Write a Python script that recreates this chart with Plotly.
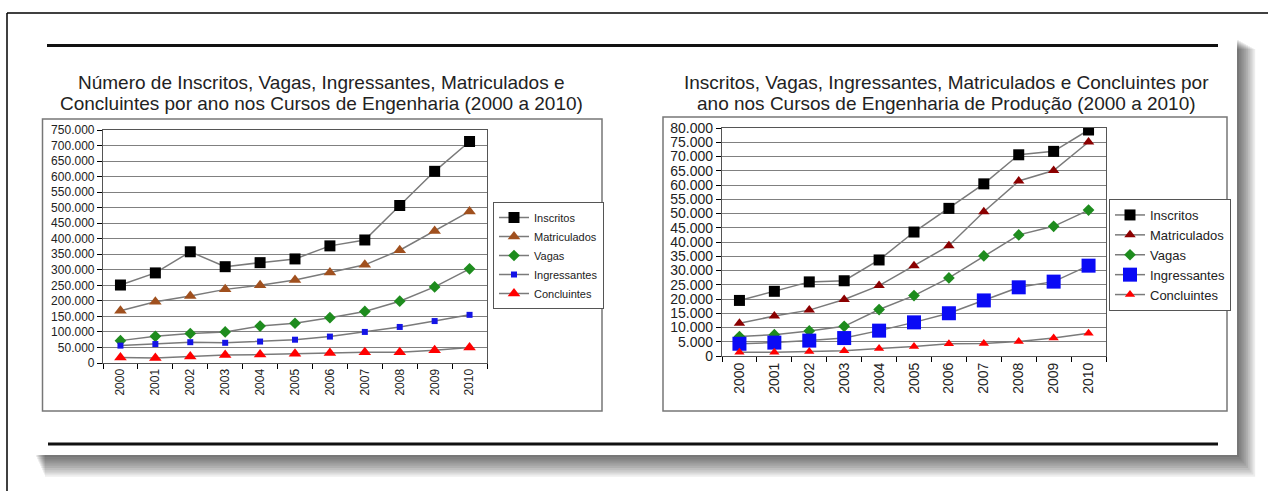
import plotly.graph_objects as go

W, H = 1268, 491

years = ["2000", "2001", "2002", "2003", "2004", "2005", "2006", "2007", "2008", "2009", "2010"]
series_names = ["Inscritos", "Matriculados", "Vagas", "Ingressantes", "Concluintes"]

# Left chart: Cursos de Engenharia
eng_inscritos = [251000, 290000, 358000, 310000, 323000, 335000, 377000, 396000, 507000, 617000, 713000]
eng_matriculados = [168000, 197000, 216000, 237000, 250000, 267000, 291000, 316000, 363000, 425000, 488000]
eng_vagas = [72000, 86000, 95000, 100000, 119000, 128000, 146000, 166000, 199000, 245000, 303000]
eng_ingressantes = [56000, 61000, 67000, 65000, 69000, 75000, 85000, 100000, 116000, 135000, 155000]
eng_concluintes = [18000, 16000, 21000, 26000, 27000, 30000, 32000, 35000, 35000, 41000, 50000]

# Right chart: Engenharia de Producao
prod_inscritos = [19500, 22700, 26000, 26400, 33700, 43500, 51800, 60400, 70600, 71800, 79300]
prod_matriculados = [11500, 14000, 16100, 19800, 24700, 31700, 38700, 50600, 61400, 65100, 75100]
prod_vagas = [6800, 7500, 8800, 10400, 16300, 21200, 27400, 35100, 42500, 45500, 51200]
prod_ingressantes = [4300, 4700, 5400, 6300, 8900, 11800, 15000, 19500, 24100, 26100, 31700]
prod_concluintes = [1300, 1300, 1600, 1800, 2600, 3300, 4300, 4400, 5100, 6300, 8000]

title_left = ["Número de Inscritos, Vagas, Ingressantes, Matriculados e",
              "Concluintes por ano nos Cursos de Engenharia (2000 a 2010)"]
title_right = ["Inscritos, Vagas, Ingressantes, Matriculados e Concluintes por",
               "ano nos Cursos de Engenharia de Produção (2000 a 2010)"]

FONT = "Liberation Sans, Arial, sans-serif"
LINE = "#7a7a7a"

def fx(x):
    return x / W

def fy(y):
    return 1 - y / H

fig = go.Figure()

left_styles = [
    dict(symbol="square", color="#000000", size=11),
    dict(symbol="triangle-up", color="#A0501E", size=11),
    dict(symbol="diamond", color="#1E8C1E", size=9),
    dict(symbol="square", color="#1414E6", size=6),
    dict(symbol="triangle-up", color="#FF0000", size=11),
]
right_styles = [
    dict(symbol="square", color="#000000", size=11),
    dict(symbol="triangle-up", color="#8B0000", size=10),
    dict(symbol="diamond", color="#1E8C1E", size=9),
    dict(symbol="square", color="#0A0AF5", size=14),
    dict(symbol="triangle-up", color="#FF0000", size=9),
]

left_data = [eng_inscritos, eng_matriculados, eng_vagas, eng_ingressantes, eng_concluintes]
right_data = [prod_inscritos, prod_matriculados, prod_vagas, prod_ingressantes, prod_concluintes]

for name, vals, st in zip(series_names, left_data, left_styles):
    fig.add_trace(go.Scatter(
        x=years, y=vals, name=name, mode="lines+markers",
        line=dict(color=LINE, width=1.5),
        marker=dict(symbol=st["symbol"], color=st["color"], size=st["size"], line=dict(width=0)),
        xaxis="x", yaxis="y", legend="legend",
    ))

for name, vals, st in zip(series_names, right_data, right_styles):
    fig.add_trace(go.Scatter(
        x=years, y=vals, name=name, mode="lines+markers",
        line=dict(color=LINE, width=1.5),
        marker=dict(symbol=st["symbol"], color=st["color"], size=st["size"], line=dict(width=0)),
        xaxis="x2", yaxis="y2", legend="legend2",
    ))

shapes = []
# outer frame (left and top edges)
shapes.append(dict(type="line", xref="paper", yref="paper", x0=fx(7), x1=fx(7), y0=fy(13), y1=fy(495),
                   line=dict(color="#000", width=1.5), layer="below"))
shapes.append(dict(type="line", xref="paper", yref="paper", x0=fx(7), x1=fx(1275), y0=fy(13), y1=fy(13),
                   line=dict(color="#000", width=1.5), layer="below"))
# shadow of page
for i in range(10):
    shapes.append(dict(type="rect", xref="paper", yref="paper",
                       x0=fx(36 + i), x1=fx(1239 + i * 1.8), y0=fy(40 + i), y1=fy(457 + i * 2.2),
                       fillcolor="rgba(0,0,0,0.07)", line=dict(width=0), layer="below"))
# page
shapes.append(dict(type="rect", xref="paper", yref="paper", x0=fx(30), x1=fx(1237), y0=fy(35), y1=fy(455),
                   fillcolor="#ffffff", line=dict(width=0), layer="below"))
# thick horizontal rules
shapes.append(dict(type="line", xref="paper", yref="paper", x0=fx(47), x1=fx(1218), y0=fy(45.5), y1=fy(45.5),
                   line=dict(color="#111", width=3), layer="below"))
shapes.append(dict(type="line", xref="paper", yref="paper", x0=fx(48), x1=fx(1218), y0=fy(444), y1=fy(444),
                   line=dict(color="#111", width=3), layer="below"))
# chart area boxes
shapes.append(dict(type="rect", xref="paper", yref="paper", x0=fx(42.5), x1=fx(602), y0=fy(119), y1=fy(411),
                   fillcolor="#ffffff", line=dict(color="#777", width=1.5), layer="below"))
shapes.append(dict(type="rect", xref="paper", yref="paper", x0=fx(663), x1=fx(1227), y0=fy(117), y1=fy(411),
                   fillcolor="#ffffff", line=dict(color="#777", width=1.5), layer="below"))

annotations = []
for cx, lines in ((322, title_left), (946, title_right)):
    for cy, txt in zip((82, 103), lines):
        annotations.append(dict(text=txt, xref="paper", yref="paper", x=fx(cx), y=fy(cy),
                                xanchor="center", yanchor="middle", showarrow=False,
                                font=dict(family=FONT, size=19, color="#222")))

axis_common_x = dict(type="category", tickangle=-90, ticks="outside", ticklen=5, tickcolor="#000",
                     tickson="boundaries", showgrid=False, showline=True, linecolor="#555", linewidth=1.2,
                     mirror=True, range=[-0.5, 10.5], zeroline=False, automargin=False)
axis_common_y = dict(ticks="outside", ticklen=5, tickcolor="#000", showgrid=True, gridcolor="#808080",
                     gridwidth=1.2, showline=True, linecolor="#555", linewidth=1.2, mirror=True,
                     tickformat=",d", zeroline=False, automargin=False)

fig.update_layout(
    width=W, height=H, autosize=False,
    margin=dict(l=0, r=0, t=0, b=0, pad=0, autoexpand=False),
    paper_bgcolor="#ffffff", plot_bgcolor="#ffffff",
    separators=",.",
    font=dict(family=FONT, color="#222"),
    shapes=shapes, annotations=annotations,
    xaxis=dict(domain=[fx(103), fx(487)], anchor="y", tickfont=dict(size=12, color="#222"), **axis_common_x),
    yaxis=dict(domain=[fy(363), fy(130)], anchor="x", range=[0, 750000], dtick=50000,
               tickfont=dict(size=12, color="#222"), **axis_common_y),
    xaxis2=dict(domain=[fx(722), fx(1106)], anchor="y2", tickfont=dict(size=14, color="#222"), **axis_common_x),
    yaxis2=dict(domain=[fy(356), fy(128)], anchor="x2", range=[0, 80000], dtick=5000,
                tickfont=dict(size=14, color="#222"), **axis_common_y),
    legend=dict(x=fx(493), y=fy(202), xanchor="left", yanchor="top", bgcolor="#ffffff",
                bordercolor="#555", borderwidth=1, font=dict(family=FONT, size=11, color="#222"),
                tracegroupgap=0, itemwidth=30),
    legend2=dict(x=fx(1109), y=fy(199), xanchor="left", yanchor="top", bgcolor="#ffffff",
                 bordercolor="#555", borderwidth=1, font=dict(family=FONT, size=13, color="#222"),
                 tracegroupgap=0, itemwidth=30),
)

fig.write_html("out.html", config={"displayModeBar": False},
               post_script="document.body.style.margin='0px';document.body.style.overflow='hidden';")
